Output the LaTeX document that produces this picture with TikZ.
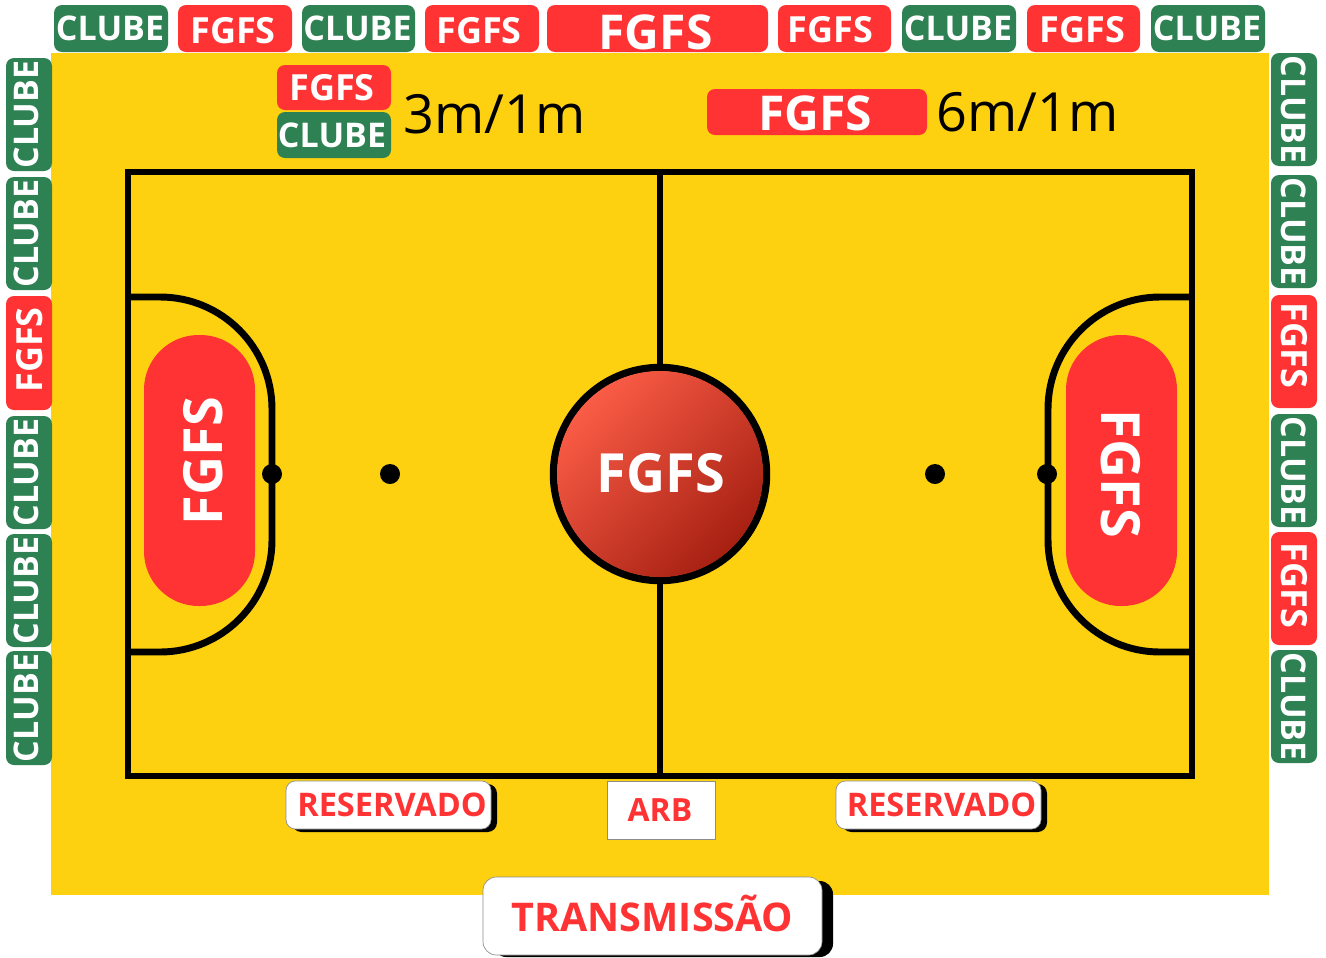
\documentclass[tikz,border=0pt]{standalone}
\usepackage{fontspec}
\setmainfont{Open Sans}
\usetikzlibrary{shadings}
\definecolor{pitch}{HTML}{FED110}
\definecolor{clube}{HTML}{2E8152}
\definecolor{fgfs}{HTML}{FF3333}
\definecolor{ballA}{HTML}{FA5C46}
\definecolor{ballB}{HTML}{A62012}
\newcommand{\fs}[1]{\pgfmathsetmacro{\myfs}{#1*0.75}\fontsize{\myfs}{\myfs}\selectfont}
% \off{dx}{dy}{text}: moves the text inside its node by dx,dy pixels
\newcommand{\off}[3]{\raisebox{\dimexpr -0.357em - #2\dimexpr 0.75pt\relax\relax}[0pt][0pt]{\kern\dimexpr #1\dimexpr 1.5pt\relax\relax\bfseries #3}}
% \tagbox{name}{x1}{y1}{x2}{y2}{style}{rotation}{font px}{text}
\newcommand{\tagbox}[9]{%
  \pgfmathsetmacro{\bw}{abs(#7)>0 ? (#5-#3) : (#4-#2)}%
  \pgfmathsetmacro{\bh}{abs(#7)>0 ? (#4-#2) : (#5-#3)}%
  \node[#6,rotate=#7,minimum width=\bw*0.75pt,minimum height=\bh*0.75pt,font=\fs{#8}] (#1) at ({(#2+#4)/2},{(#3+#5)/2}) {#9};}
\tikzset{
  x=0.75pt,y=-0.75pt,
  tagstyle/.style={rectangle,rounded corners=6pt,inner sep=0pt,text=white},
  clubebox/.style={tagstyle,fill=clube},
  fgfsbox/.style={tagstyle,fill=fgfs},
  courtline/.style={draw=black,line width=5.2pt},
  spot/.style={circle,fill=black,inner sep=0pt,minimum size=15pt},
  whitebox/.style={rectangle,fill=white,draw=black!45,line width=0.5pt,inner sep=0pt,text=fgfs},
  pill/.style={fill=fgfs,rounded corners=41pt},
  legendtext/.style={inner sep=0pt,anchor=base west,text=black}
}
\begin{document}
\begin{tikzpicture}
\useasboundingbox (0,0) rectangle (1326,957);
\fill[white] (0,0) rectangle (1326,957);
\fill[pitch] (51,53) rectangle (1269,895);
% top row
\tagbox{t1}{54}{5}{168}{52}{clubebox}{0}{34}{\off{-1}{0}{CLUBE}}
\tagbox{t2}{178}{5}{292}{52}{fgfsbox}{0}{36}{\off{-2}{2}{FGFS}}
\tagbox{t3}{302}{5}{415}{52}{clubebox}{0}{34}{\off{-1}{0}{CLUBE}}
\tagbox{t4}{425}{5}{539}{52}{fgfsbox}{0}{36}{\off{-3}{2}{FGFS}}
\tagbox{t5}{547}{5}{768}{52}{fgfsbox}{0}{48}{\off{-2}{3.5}{FGFS}}
\tagbox{t6}{778}{5}{891}{52}{fgfsbox}{0}{36}{\off{-4}{1.5}{FGFS}}
\tagbox{t7}{902}{5}{1016}{52}{clubebox}{0}{34}{\off{-1}{0}{CLUBE}}
\tagbox{t8}{1027}{5}{1140}{52}{fgfsbox}{0}{36}{\off{-1}{1.5}{FGFS}}
\tagbox{t9}{1151}{5}{1265}{52}{clubebox}{0}{34}{\off{-1}{0}{CLUBE}}
% left column
\tagbox{l1}{6}{58}{52}{171}{clubebox}{90}{34}{\off{0}{-2.5}{CLUBE}}
\tagbox{l2}{6}{177}{52}{290}{clubebox}{90}{34}{\off{0}{-2.5}{CLUBE}}
\tagbox{l3}{6}{296}{52}{410}{fgfsbox}{90}{36}{\off{3}{1}{FGFS}}
\tagbox{l4}{6}{416}{52}{529}{clubebox}{90}{34}{\off{0}{-2.5}{CLUBE}}
\tagbox{l5}{6}{534}{52}{647}{clubebox}{90}{34}{\off{0}{-2.5}{CLUBE}}
\tagbox{l6}{6}{651}{52}{765}{clubebox}{90}{34}{\off{0}{-2.5}{CLUBE}}
% right column
\tagbox{r1}{1271}{53}{1317}{166}{clubebox}{-90}{34}{\off{0}{0}{CLUBE}}
\tagbox{r2}{1271}{175}{1317}{288}{clubebox}{-90}{34}{\off{0}{0}{CLUBE}}
\tagbox{r3}{1271}{295}{1317}{408}{fgfsbox}{-90}{36}{\off{-6}{0}{FGFS}}
\tagbox{r4}{1271}{414}{1317}{527}{clubebox}{-90}{34}{\off{0}{0}{CLUBE}}
\tagbox{r5}{1271}{532}{1317}{645}{fgfsbox}{-90}{36}{\off{-3}{0}{FGFS}}
\tagbox{r6}{1271}{650}{1317}{763}{clubebox}{-90}{34}{\off{0}{0}{CLUBE}}
% legend
\tagbox{lf}{277}{65}{391}{110}{fgfsbox}{0}{36}{\off{-2}{0}{FGFS}}
\tagbox{lc}{277}{112}{391}{158}{clubebox}{0}{34}{\off{-2}{0}{CLUBE}}
\tagbox{lb}{707}{89}{927}{135}{fgfsbox}{0}{48}{\off{-2}{1.5}{FGFS}}
\node[legendtext,font=\fs{54}] (tA) at (403,133) {3m/1m};
\node[legendtext,font=\fs{54}] (tB) at (936,131) {6m/1m};
% court
\node[draw=black,line width=5.2pt,outer sep=0pt,inner sep=0pt,minimum width=1064*0.75pt,minimum height=604*0.75pt] (court) at (660,474) {};
\node[circle,draw=black,line width=5.6pt,outer sep=0pt,inner sep=0pt,minimum size=213*0.75pt] (ball) at (660,474) {};
\draw[courtline] (court.north) -- (ball.north);
\draw[courtline] (ball.south) -- (court.south);
\draw[courtline] (court.west |- 0,297) coordinate (a1) -- (160,297) arc[start angle=-90,end angle=0,radius=112] -- (272,540) arc[start angle=0,end angle=90,radius=112] -- (court.west |- 0,652) coordinate (a2);
\draw[courtline] (court.east |- 0,297) coordinate (b1) -- (1160,297) arc[start angle=-90,end angle=-180,radius=112] -- (1048,540) arc[start angle=180,end angle=90,radius=112] -- (court.east |- 0,652) coordinate (b2);
\shade[left color=ballA,right color=ballB,shading angle=45] (660,474) circle[radius=103];
\node[text=white,font=\fs{54}\bfseries,inner sep=0pt] (ballt) at (661,473) {FGFS};
\node[pill,minimum width=111*0.75pt,minimum height=271*0.75pt,inner sep=0pt] (pl) at (199.5,470.5) {};
\node[pill,minimum width=111*0.75pt,minimum height=271*0.75pt,inner sep=0pt] (pr) at (1121.5,470.5) {};
\node[text=white,font=\fs{54}\bfseries,rotate=90,inner sep=0pt] (pltext) at (203,461) {FGFS};
\node[text=white,font=\fs{54}\bfseries,rotate=-90,inner sep=0pt] (prtext) at (1121,474) {FGFS};
\node[spot] (d1) at (272,474) {};
\node[spot] (d2) at (390,474) {};
\node[spot] (d3) at (935,474) {};
\node[spot] (d4) at (1047,474) {};
% white boxes
\fill[black,rounded corners=7pt] (292,784) rectangle (497,832);
\fill[black,rounded corners=7pt] (842,784) rectangle (1047,832);
\fill[black,rounded corners=10pt] (493,881) rectangle (833,957);
\tagbox{res1}{286}{781}{491}{829}{whitebox,rounded corners=7pt}{0}{32.5}{\off{3.5}{0}{RESERVADO}}
\tagbox{res2}{836}{781}{1041}{829}{whitebox,rounded corners=7pt}{0}{32.5}{\off{3}{0}{RESERVADO}}
\tagbox{arb}{607}{781}{715}{839}{whitebox}{0}{32}{\off{-1}{0}{ARB}}
\tagbox{trans}{483}{877}{822}{955}{whitebox,rounded corners=10pt}{0}{39.5}{\off{0}{1}{TRANSMISSÃO}}
\end{tikzpicture}
\end{document}
